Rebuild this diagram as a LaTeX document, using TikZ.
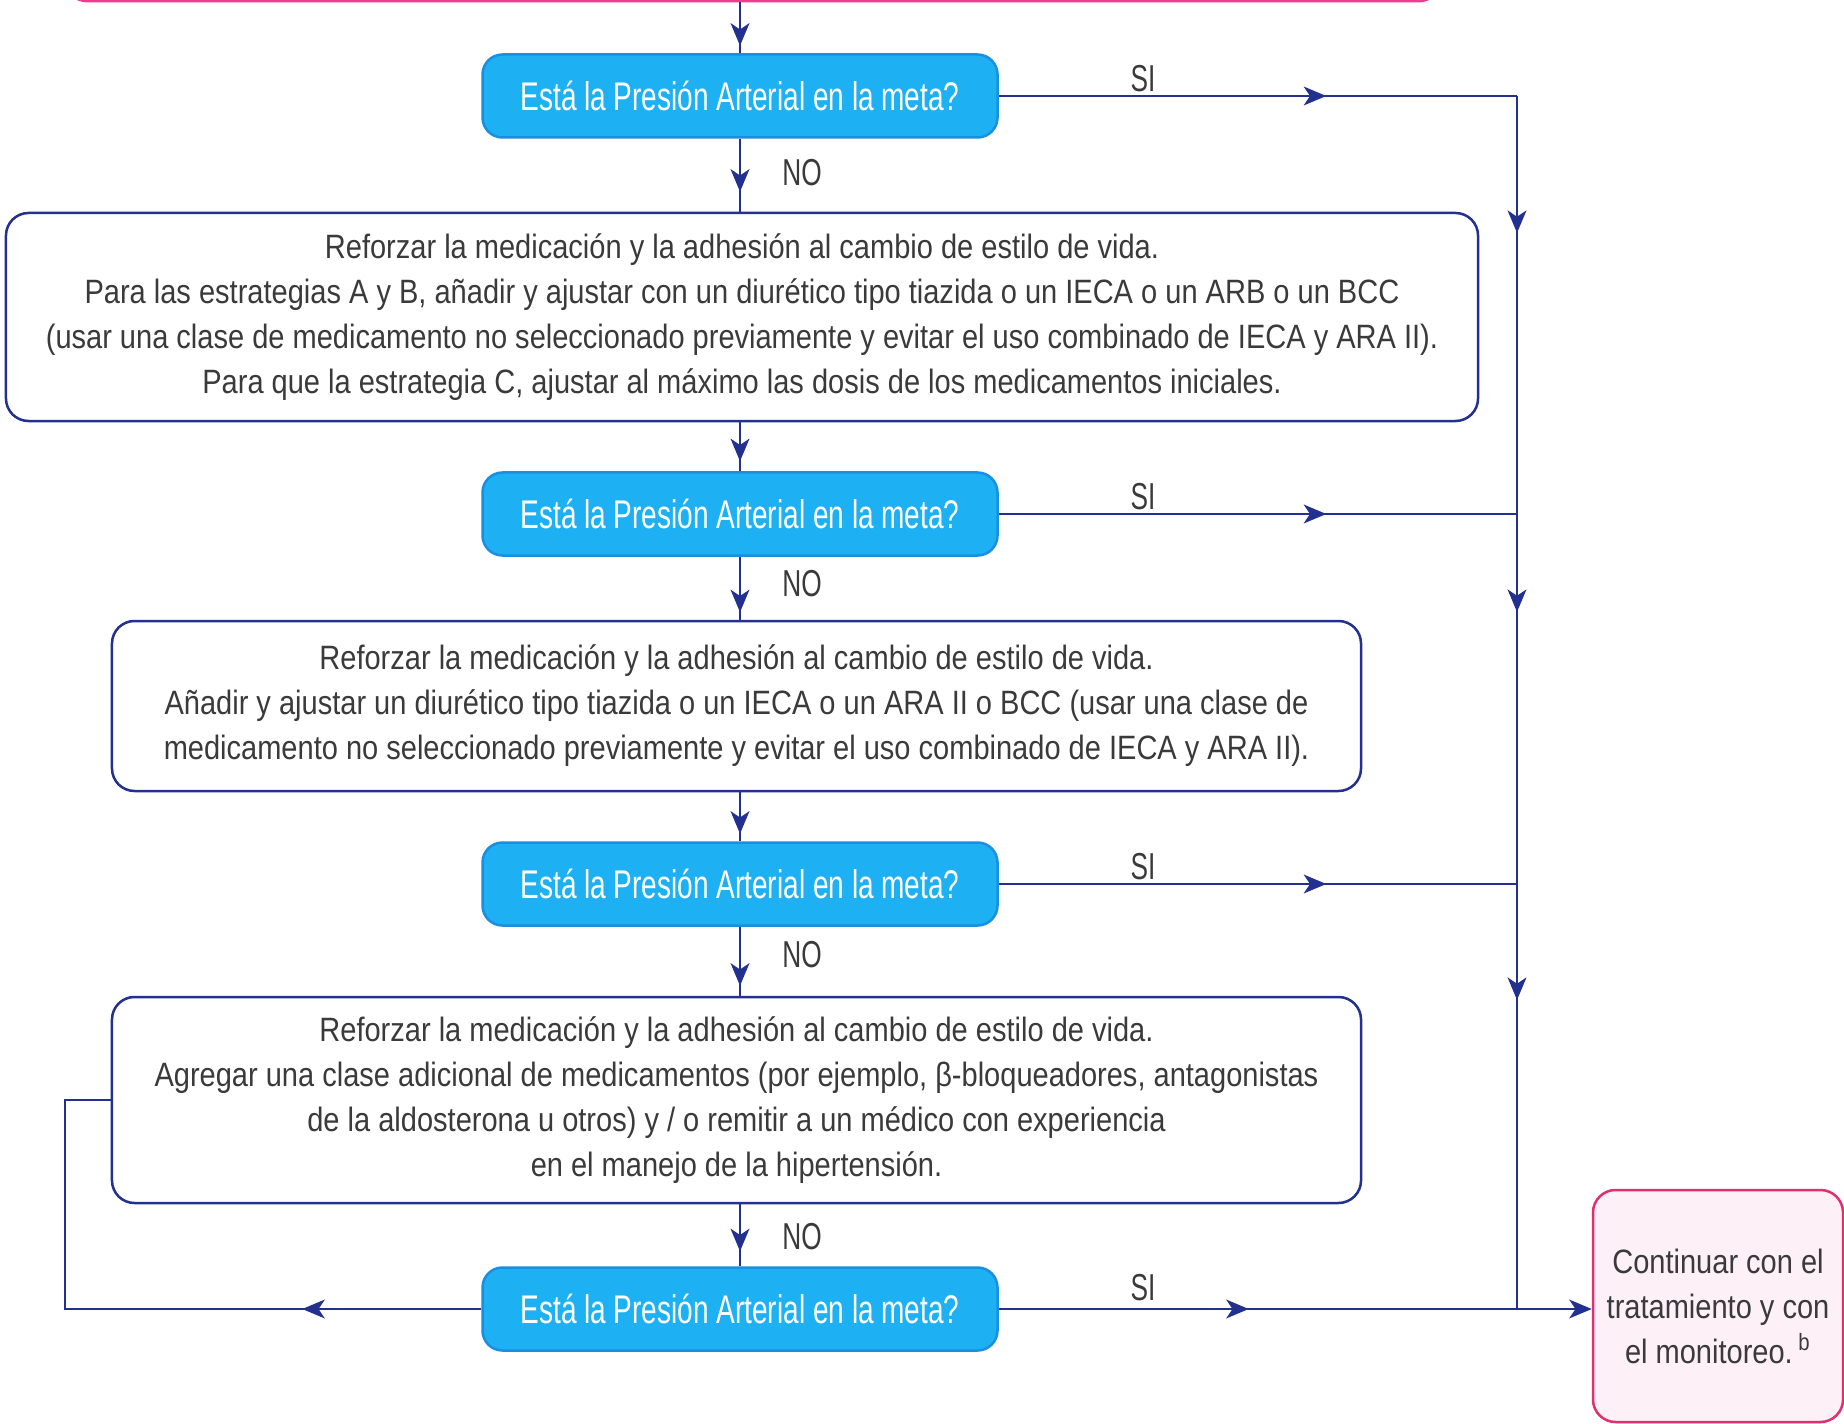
\documentclass[tikz,border=0pt]{standalone}
\usepackage{fontspec}
\setmainfont{Liberation Sans}
\newfontfamily\bodyfont{Liberation Sans}[FakeStretch=0.86]
\newfontfamily\decfont{Liberation Sans}[FakeStretch=0.70]
\usetikzlibrary{arrows.meta,decorations.markings}
\definecolor{lineblue}{HTML}{22308F}
\definecolor{decfill}{HTML}{1DB1F3}
\definecolor{decborder}{HTML}{1A8FDF}
\definecolor{textgray}{HTML}{3A3A3A}
\definecolor{pinkfill}{HTML}{FDF0F6}
\definecolor{pinkdraw}{HTML}{E0306E}
\definecolor{topdraw}{HTML}{EE3D8F}
\tikzset{
  dec/.style={draw=decborder, fill=decfill, rounded corners=8pt, line width=1pt,
    minimum width=206pt, minimum height=33.2pt, inner sep=0pt, text=white,
    font=\decfont\fontsize{16}{19}\selectfont},
  act/.style={draw=lineblue, fill=white, rounded corners=9pt, line width=1pt,
    align=center, inner sep=0pt, text=textgray,
    font=\bodyfont\fontsize{13.5}{18}\selectfont},
  endbox/.style={draw=pinkdraw, fill=pinkfill, rounded corners=9pt, line width=1pt,
    align=center, inner sep=0pt, text=textgray,
    font=\bodyfont\fontsize{13.5}{18}\selectfont},
  lbl/.style={text=textgray, inner sep=0pt, font=\decfont\fontsize{15}{18}\selectfont},
  flow/.style={draw=lineblue, line width=1.1pt},
  tipshape/.tip={Stealth[length=9pt,width=7.5pt,inset=2.5pt]},
  markat/.style={postaction={decorate, decoration={markings,
    mark=at position #1 with {\arrow[lineblue]{tipshape}}}}},
}
\begin{document}
\begin{tikzpicture}[x=0.4pt,y=-0.4pt]
\clip (0,0) rectangle (1844,1424);
\fill[white] (0,0) rectangle (1844,1424);

% cut-off box at top
\node[draw=topdraw, line width=1.2pt, rounded corners=9pt, minimum width=550.4pt,
  minimum height=40pt, inner sep=0pt] (topbox) at (753,-49) {};

% decision nodes
\node[dec] (d1) at (740,96) {Está la Presión Arterial en la meta?};
\node[dec] (d2) at (740,514) {Está la Presión Arterial en la meta?};
\node[dec] (d3) at (740,884) {Está la Presión Arterial en la meta?};
\node[dec] (d4) at (740,1309) {Está la Presión Arterial en la meta?};

% action nodes
\node[act, minimum width=588.8pt, minimum height=83.2pt] (a1) at (742,317)
  {Reforzar la medicación y la adhesión al cambio de estilo de vida.\\
   Para las estrategias A y B, añadir y ajustar con un diurético tipo tiazida o un IECA o un ARB o un BCC\\
   (usar una clase de medicamento no seleccionado previamente y evitar el uso combinado de IECA y ARA II).\\
   Para que la estrategia C, ajustar al máximo las dosis de los medicamentos iniciales.};
\node[act, minimum width=499.6pt, minimum height=68pt] (a2) at (736.5,706)
  {Reforzar la medicación y la adhesión al cambio de estilo de vida.\\
   Añadir y ajustar un diurético tipo tiazida o un IECA o un ARA II o BCC (usar una clase de\\
   medicamento no seleccionado previamente y evitar el uso combinado de IECA y ARA II).};
\node[act, minimum width=499.6pt, minimum height=82.4pt] (a3) at (736.5,1100)
  {Reforzar la medicación y la adhesión al cambio de estilo de vida.\\
   Agregar una clase adicional de medicamentos (por ejemplo, β-bloqueadores, antagonistas\\
   de la aldosterona u otros) y / o remitir a un médico con experiencia\\
   en el manejo de la hipertensión.};

% end node
\node[endbox, minimum width=100pt, minimum height=92.8pt] (p) at (1718,1306)
  {Continuar con el\\ tratamiento y con\\ el monitoreo.\,\textsuperscript{b}};

% labels
\node[lbl] (no1) at (802,173) {NO};
\node[lbl] (no2) at (802,584) {NO};
\node[lbl] (no3) at (802,955) {NO};
\node[lbl] (no4) at (802,1237) {NO};
\node[lbl] (si1) at (1143,79) {SI};
\node[lbl] (si2) at (1143,497) {SI};
\node[lbl] (si3) at (1143,867) {SI};
\node[lbl] (si4) at (1143,1288) {SI};

% helper coordinates
\coordinate (rx) at (1517,0);
\coordinate (lx) at (65,0);

% main vertical flow
\draw[flow, markat=-3pt] (d1.north |- topbox.south) -- (d1.north);
\draw[flow, markat=-8pt] (d1.south) -- (d1.south |- a1.north);
\draw[flow, markat=-4pt] (d1.south |- a1.south) -- (d2.north);
\draw[flow, markat=-3pt] (d2.south) -- (d2.south |- a2.north);
\draw[flow, markat=-3pt] (d2.south |- a2.south) -- (d3.north);
\draw[flow, markat=-4pt] (d3.south) -- (d3.south |- a3.north);
\draw[flow, markat=-6pt] (d3.south |- a3.south) -- (d4.north);

% SI branches
\draw[flow, markat=131pt] (d1.east) -- (d1.east -| rx);
\draw[flow, markat=131pt] (d2.east) -- (d2.east -| rx);
\draw[flow, markat=131pt] (d3.east) -- (d3.east -| rx);
\draw[flow, postaction={decorate, decoration={markings,
    mark=at position 54.8pt with {\arrow[lineblue]{tipshape}},
    mark=at position 206.4pt with {\arrow[lineblue]{tipshape}},
    mark=at position 361.6pt with {\arrow[lineblue]{tipshape}}}}]
  (d1.east -| rx) -- (d4.east -| rx);
\draw[flow, markat=100pt, -tipshape] (d4.east) -- (d4.east -| p.west);

% NO loop from last decision
\draw[flow, markat=71.6pt] (d4.west) -- (d4.west -| lx) |- (a3.west);
\end{tikzpicture}
\end{document}
